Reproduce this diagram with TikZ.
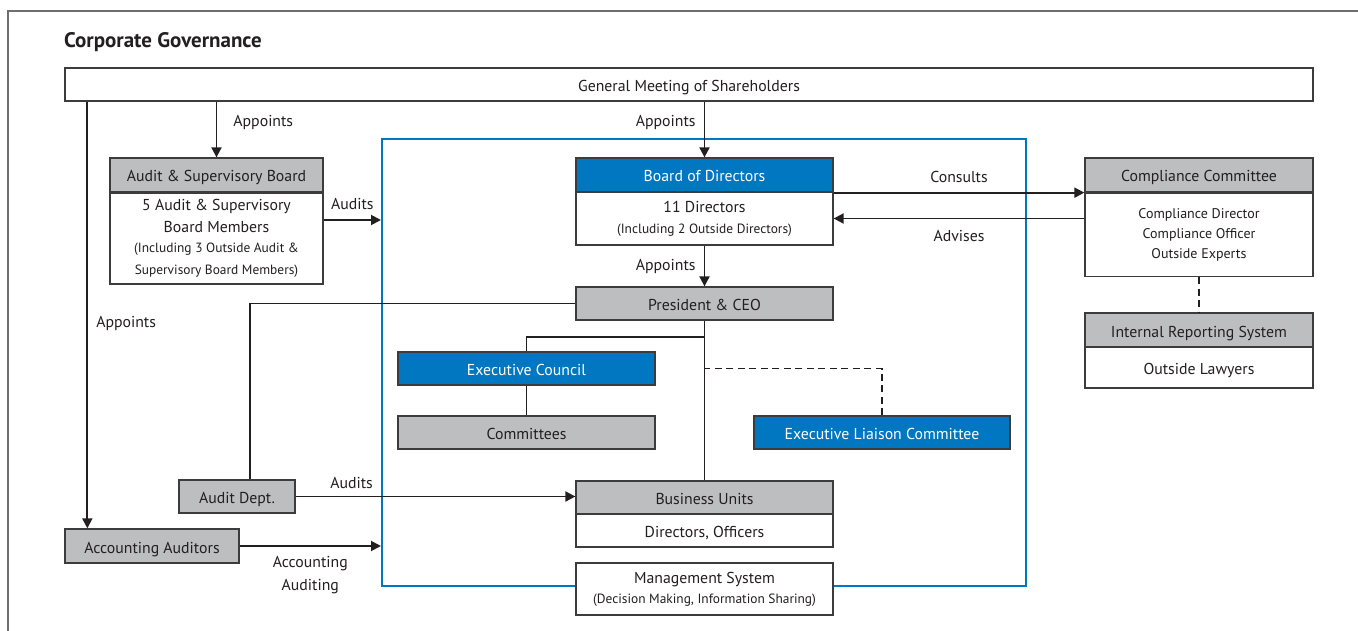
\documentclass[tikz,border=0pt]{standalone}
\usepackage{fontspec}
\setmainfont{PT Sans}
\usetikzlibrary{arrows.meta}
\definecolor{cgblue}{RGB}{0,119,192}
\definecolor{cggray}{RGB}{189,190,192}
\definecolor{edge}{RGB}{60,60,60}
\definecolor{ink}{RGB}{35,31,32}
\definecolor{rule}{RGB}{110,110,110}
\newcommand\mainsz{\fontsize{15.8}{22}\selectfont}
\newcommand\smallsz{\fontsize{13.4}{19.5}\selectfont}
\begin{document}
\begin{tikzpicture}[x=1pt,y=-1pt,
  box/.style={draw=edge, line width=1.3pt, inner sep=0pt, align=center, text=ink, font=\mainsz},
  one/.style={text height=14pt, text depth=0pt},
  hdr/.style={box, one, fill=cggray},
  blu/.style={box, one, fill=cgblue, text=white},
  body/.style={box, fill=white},
  arr/.style={-{Triangle[length=10pt,width=10pt]}, line width=1.9pt, draw=ink},
  link/.style={line width=1.9pt, draw=ink},
  dlink/.style={line width=1.9pt, draw=ink, dash pattern=on 7pt off 4.5pt},
  lbl/.style={font=\mainsz, text=ink, inner sep=2pt, align=center}]
\useasboundingbox (0,0) rectangle (1358,631);
\fill[white] (0,0) rectangle (1358,631);

% open page frame and title
\draw[rule, line width=1.2pt] (8,631) -- (8,11) -- (1358,11);
\node[anchor=west, inner sep=0pt, text=ink, font=\fontsize{21}{24}\selectfont\bfseries] (title) at (64,42) {Corporate Governance};

% management system frame
\node[draw=cgblue, line width=2pt, inner sep=0pt, minimum width=644pt, minimum height=447pt] (frame) at (704,362.5) {};

% boxes
\node[body, one, minimum width=1248pt, minimum height=33pt] (gm) at (689,84.5) {General Meeting of Shareholders};

\node[hdr, minimum width=213pt, minimum height=34pt] (asbH) at (216.5,175) {Audit \& Supervisory Board};
\node[body, minimum width=213pt, minimum height=91pt] (asbB) at (216.5,238.5)
  {5 Audit \& Supervisory\\Board Members\\[-2pt]\smallsz (Including 3 Outside Audit \&\\\smallsz Supervisory Board Members)};

\node[blu, minimum width=257pt, minimum height=34pt] (bodH) at (704.5,175) {Board of Directors};
\node[body, minimum width=257pt, minimum height=53pt] (bodB) at (704.5,218.5)
  {11 Directors\\[-1pt]\smallsz (Including 2 Outside Directors)};

\node[hdr, minimum width=257pt, minimum height=33pt] (pres) at (704.5,303.5) {President \& CEO};

\node[blu, minimum width=257pt, minimum height=33pt] (ec) at (526.5,368.5) {Executive Council};
\node[hdr, minimum width=257pt, minimum height=33pt] (com) at (526.5,432.5) {Committees};
\node[blu, minimum width=256pt, minimum height=33pt] (elc) at (882,432.5) {Executive Liaison Committee};

\node[hdr, minimum width=257pt, minimum height=33pt] (buH) at (704.5,497.5) {Business Units};
\node[body, one, minimum width=257pt, minimum height=33pt] (buB) at (704.5,530.5) {Directors, Officers};

\node[body, minimum width=257pt, minimum height=52pt] (ms) at (704.5,589)
  {Management System\\[-2pt]\smallsz (Decision Making, Information Sharing)};

\node[hdr, minimum width=116pt, minimum height=33pt] (ad) at (237,496.5) {Audit Dept.};
\node[hdr, minimum width=174pt, minimum height=34pt] (aa) at (152,546) {Accounting Auditors};

\node[hdr, minimum width=228pt, minimum height=34pt] (cmpH) at (1199,175) {Compliance Committee};
\node[body, minimum width=228pt, minimum height=83pt, font=\fontsize{14}{20}\selectfont] (cmpB) at (1199,235)
  {Compliance Director\\Compliance Officer\\Outside Experts};

\node[hdr, minimum width=228pt, minimum height=34pt] (irsH) at (1199,330) {Internal Reporting System};
\node[body, one, minimum width=228pt, minimum height=41pt] (irsB) at (1199,367.5) {Outside Lawyers};

% connectors
\draw[arr] (gm.south -| asbH.north) -- node[lbl, pos=0.38, right=14pt] {Appoints} (asbH.north);
\draw[arr] (gm.south -| bodH.north) -- node[lbl, pos=0.38, left=6pt] {Appoints} (bodH.north);
\draw[arr] ([xshift=23pt]gm.south west) -- node[lbl, pos=0.52, right=6pt] {Appoints} ([xshift=23pt]aa.north west);

\draw[arr] ([yshift=18.5pt]asbB.east) -- node[lbl, above=7pt] {Audits} ([yshift=18.5pt]asbB.east -| frame.west);

\draw[arr] (bodH.south east) -- node[lbl, above=7pt] {Consults} (cmpH.south west);
\draw[arr] (bodB.east -| cmpB.west) -- node[lbl, below=9pt] {Advises} (bodB.east);

\draw[arr] (bodB.south) -- node[lbl, left=6pt] {Appoints} (pres.north);
\draw[link] (pres.south) -- (buH.north);
\draw[link] (ec.north) |- ([yshift=-16pt]pres.south);
\draw[link] (ec.south) -- (com.north);
\draw[dlink] (elc.north) |- (pres.south |- ec.east);

\draw[link] ([xshift=13pt]ad.north) |- (pres.west);
\draw[arr] (ad.east) -- node[lbl, pos=0.2, above=5pt] {Audits} (ad.east -| buH.west);

\draw[arr] (aa.east) -- node[lbl, below=7pt, font=\fontsize{15.8}{23}\selectfont] {Accounting\\Auditing} (aa.east -| frame.west);

\draw[dlink] (cmpB.south) -- (irsH.north);
\end{tikzpicture}
\end{document}
